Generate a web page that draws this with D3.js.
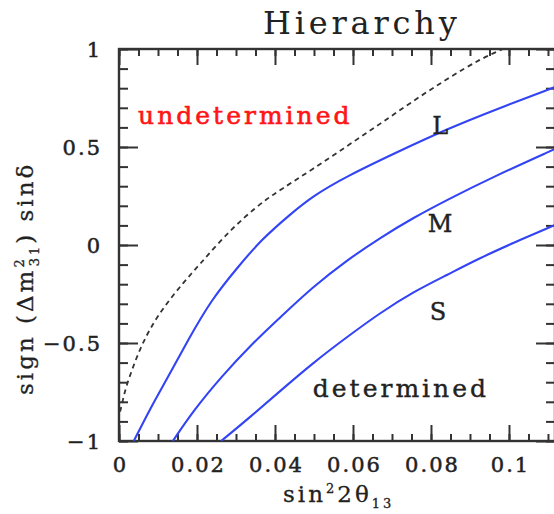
<!DOCTYPE html>
<html><head><meta charset="utf-8">
<script src="https://cdn.jsdelivr.net/npm/d3@7"></script>
<style>body{margin:0;background:#fff}svg{display:block}</style>
</head><body>
<svg id="c" width="554" height="514"></svg>
<script>
const xMajorTicks = [0, 0.02, 0.04, 0.06, 0.08, 0.1];
const xTickLabels = ["0", "0.02", "0.04", "0.06", "0.08", "0.1"];
const yMajorTicks = [-1, -0.5, 0, 0.5, 1];
const yTickLabels = ["\u22121", "\u22120.5", "0", "0.5", "1"];

const dashedX = [0.0003, 0.0010, 0.0018, 0.0036, 0.0056, 0.0082, 0.0115, 0.0164, 0.0210, 0.0262, 0.0321, 0.0382, 0.0413, 0.0497, 0.0585, 0.0669, 0.0754, 0.0841, 0.0926, 0.0985];
const dashedY = [-0.85, -0.79, -0.724, -0.622, -0.52, -0.418, -0.316, -0.194, -0.092, 0.026, 0.143, 0.24, 0.28, 0.388, 0.505, 0.617, 0.735, 0.847, 0.949, 1.0];

const lX = [0.0038, 0.0082, 0.0126, 0.0177, 0.0236, 0.0305, 0.0364, 0.0441, 0.0497, 0.0585, 0.0713, 0.0841, 0.0969, 0.1118];
const lY = [-1, -0.827, -0.673, -0.485, -0.281, -0.112, 0.026, 0.16, 0.25, 0.352, 0.474, 0.592, 0.694, 0.806];

const mX = [0.0138, 0.0192, 0.0262, 0.0338, 0.0413, 0.0497, 0.0585, 0.0669, 0.0754, 0.0841, 0.0959, 0.1118];
const mY = [-1, -0.842, -0.673, -0.51, -0.37, -0.214, -0.077, 0.036, 0.138, 0.23, 0.347, 0.49];

const sX = [0.0262, 0.0338, 0.0413, 0.0497, 0.0585, 0.0669, 0.0754, 0.0841, 0.0926, 0.101, 0.1118];
const sY = [-1, -0.875, -0.745, -0.602, -0.469, -0.347, -0.24, -0.153, -0.066, 0.01, 0.102];

const regionLabels = ["undetermined", "determined"];
const curveLabels = ["L", "M", "S"];

const svg = d3.select("#c");
const x = d3.scaleLinear().domain([0, 0.1118]).range([119, 555]);
const y = d3.scaleLinear().domain([-1, 1]).range([441, 49]);
const font = "'DejaVu Serif', serif";
const ink = "#222";

svg.append("clipPath").attr("id","clip").append("rect")
  .attr("x",119).attr("y",49).attr("width",436).attr("height",392);

const xMinor = d3.range(0, 0.1116, 0.005);
const yMinor = d3.range(-1, 1.001, 0.1);

function styleAxis(g){ g.select(".domain").remove(); g.selectAll("line").attr("stroke","#333").attr("stroke-width",2); }
function addTicks(axisFn, pos, vals, size){
  svg.append("g").attr("transform", pos)
    .call(axisFn.tickValues(vals).tickSize(-size).tickFormat("")).call(styleAxis);
}
addTicks(d3.axisBottom(x), "translate(0,441)", xMinor, 7);
addTicks(d3.axisBottom(x), "translate(0,441)", xMajorTicks, 16);
addTicks(d3.axisTop(x), "translate(0,49)", xMinor, 7);
addTicks(d3.axisTop(x), "translate(0,49)", xMajorTicks, 16);
addTicks(d3.axisLeft(y), "translate(119,0)", yMinor, 9);
addTicks(d3.axisLeft(y), "translate(119,0)", yMajorTicks, 19);
addTicks(d3.axisRight(y), "translate(555,0)", yMinor, 9);
addTicks(d3.axisRight(y), "translate(555,0)", yMajorTicks, 19);

// tick labels
const LS = 2;
const bx = svg.append("g").attr("transform","translate(0,441)")
  .call(d3.axisBottom(x).tickValues(xMajorTicks).tickSize(0).tickFormat((d,i)=>xTickLabels[i]));
bx.select(".domain").remove();
bx.selectAll("text").attr("y",31).attr("dy",0).attr("dx",LS/2).attr("font-family",font)
  .attr("font-size",21).attr("letter-spacing",LS).attr("fill",ink)
  .attr("stroke",ink).attr("stroke-width",0.5);
const ly = svg.append("g").attr("transform","translate(119,0)")
  .call(d3.axisLeft(y).tickValues(yMajorTicks).tickSize(0).tickFormat((d,i)=>yTickLabels[i]));
ly.select(".domain").remove();
ly.selectAll("text").attr("x",-19).attr("dx",LS).attr("dy","0.36em").attr("font-family",font)
  .attr("font-size",21).attr("letter-spacing",LS).attr("fill",ink)
  .attr("stroke",ink).attr("stroke-width",0.5);

// frame
svg.append("rect").attr("x",119).attr("y",49).attr("width",436).attr("height",392)
  .attr("fill","none").attr("stroke","#333").attr("stroke-width",2.4);

const line = d3.line().x(d=>x(d[0])).y(d=>y(d[1])).curve(d3.curveBasis);
const plot = svg.append("g").attr("clip-path","url(#clip)");
plot.append("path").datum(dashedX.map((v,i)=>[v,dashedY[i]]))
  .attr("d",line).attr("fill","none").attr("stroke","#333").attr("stroke-width",1.8)
  .attr("stroke-dasharray","5,4");
[[lX,lY],[mX,mY],[sX,sY]].forEach(([xs,ys])=>{
  plot.append("path").datum(xs.map((v,i)=>[v,ys[i]]))
    .attr("d",line).attr("fill","none").attr("stroke","#3344f5").attr("stroke-width",2.1);
});

// region labels
svg.append("text").attr("x",x(0.0049)).attr("y",y(0.617)).attr("font-family",font)
  .attr("font-size",25).attr("letter-spacing",3).attr("fill","#ff1515")
  .attr("stroke","#ff1515").attr("stroke-width",0.6).text(regionLabels[0]);
svg.append("text").attr("x",x(0.0497)).attr("y",y(-0.776)).attr("font-family",font)
  .attr("font-size",25).attr("letter-spacing",3).attr("fill",ink)
  .attr("stroke",ink).attr("stroke-width",0.4).text(regionLabels[1]);
const clPos = [[0.0803,0.566],[0.0792,0.066],[0.0797,-0.383]];
curveLabels.forEach((t,i)=>{
  svg.append("text").attr("x",x(clPos[i][0])).attr("y",y(clPos[i][1])).attr("font-family",font)
    .attr("font-size",24).attr("fill",ink).attr("stroke",ink).attr("stroke-width",0.4).text(t);
});

// title
svg.append("text").attr("x",263).attr("y",34)
  .attr("font-family",font).attr("font-size",32).attr("letter-spacing",3.8).attr("fill","#222").text("Hierarchy");

// x label
const xl = svg.append("text").attr("x",283).attr("y",502)
  .attr("font-family",font).attr("font-size",23).attr("letter-spacing",3).attr("fill",ink)
  .attr("stroke",ink).attr("stroke-width",0.3);
xl.append("tspan").text("sin");
xl.append("tspan").attr("font-size",13).attr("dy",-9).text("2");
xl.append("tspan").attr("dy",9).text("2\u03B8");
xl.append("tspan").attr("font-size",13).attr("dy",6).text("13");

// y label
const yl = svg.append("text").attr("transform","translate(33,395) rotate(-90)")
  .attr("font-family",font).attr("font-size",23).attr("letter-spacing",3).attr("fill",ink)
  .attr("stroke",ink).attr("stroke-width",0.3);
yl.append("tspan").text("sign (\u0394m");
yl.append("tspan").attr("font-size",13).attr("dy",-9).text("2");
yl.append("tspan").attr("font-size",13).attr("dx",-10).attr("dy",15).text("31");
yl.append("tspan").attr("dy",-6).text(") sin\u03B4");
</script>
</body></html>
